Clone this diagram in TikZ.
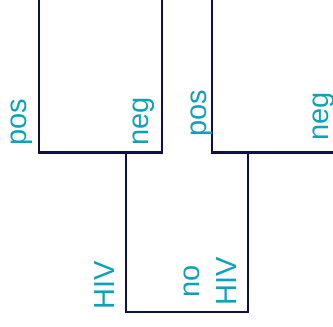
\documentclass[tikz,border=0pt]{standalone}
\usepackage{fontspec}
\setmainfont{Liberation Sans}
\definecolor{linenavy}{RGB}{16,16,70}
\definecolor{labelteal}{RGB}{16,160,184}
\begin{document}
\begin{tikzpicture}[x=1pt,y=-1pt,
  branch/.style={draw=linenavy,line width=2.3pt,line join=miter},
  leaflabel/.style={text=labelteal,inner sep=0pt,rotate=90,anchor=base west,
    font=\fontsize{29}{37.5}\selectfont},
  multilabel/.style={text=labelteal,inner sep=0pt,rotate=90,anchor=center,align=center,
    font=\fontsize{29}{37.5}\selectfont}]
\useasboundingbox (0,0) rectangle (333,327);
\clip (0,0) rectangle (333,327);
% tree coordinates
\coordinate (posLtop) at (39,-5);
\coordinate (posLbot) at (39,152.5);
\coordinate (negLtop) at (162,-5);
\coordinate (negLbot) at (162,152.5);
\coordinate (joinL) at (126,152.5);
\coordinate (rootL) at (126,312);
\coordinate (rootR) at (248,312);
\coordinate (joinR) at (248,152.5);
\coordinate (posRtop) at (212,-5);
\coordinate (posRbot) at (212,152.5);
\coordinate (negRbot) at (345,152.5);
% branches
\draw[branch] (posLtop) -- (posLbot) -- (negLbot) -- (negLtop);
\draw[branch] (joinL) -- (rootL) -- (rootR) -- (joinR);
\draw[branch] (posRtop) -- (posRbot) -- (negRbot);
% labels
\node[leaflabel] (lposL) at (27,145.5) {pos};
\node[leaflabel] (lnegL) at (148,145.5) {neg};
\node[leaflabel] (lposR) at (206.7,137) {pos};
\node[leaflabel] (lnegR) at (328,141) {neg};
\node[leaflabel] (lhiv) at (114,310) {HIV};
\node[multilabel] (lnohiv) at (210,281) {no\\HIV};
\end{tikzpicture}
\end{document}
